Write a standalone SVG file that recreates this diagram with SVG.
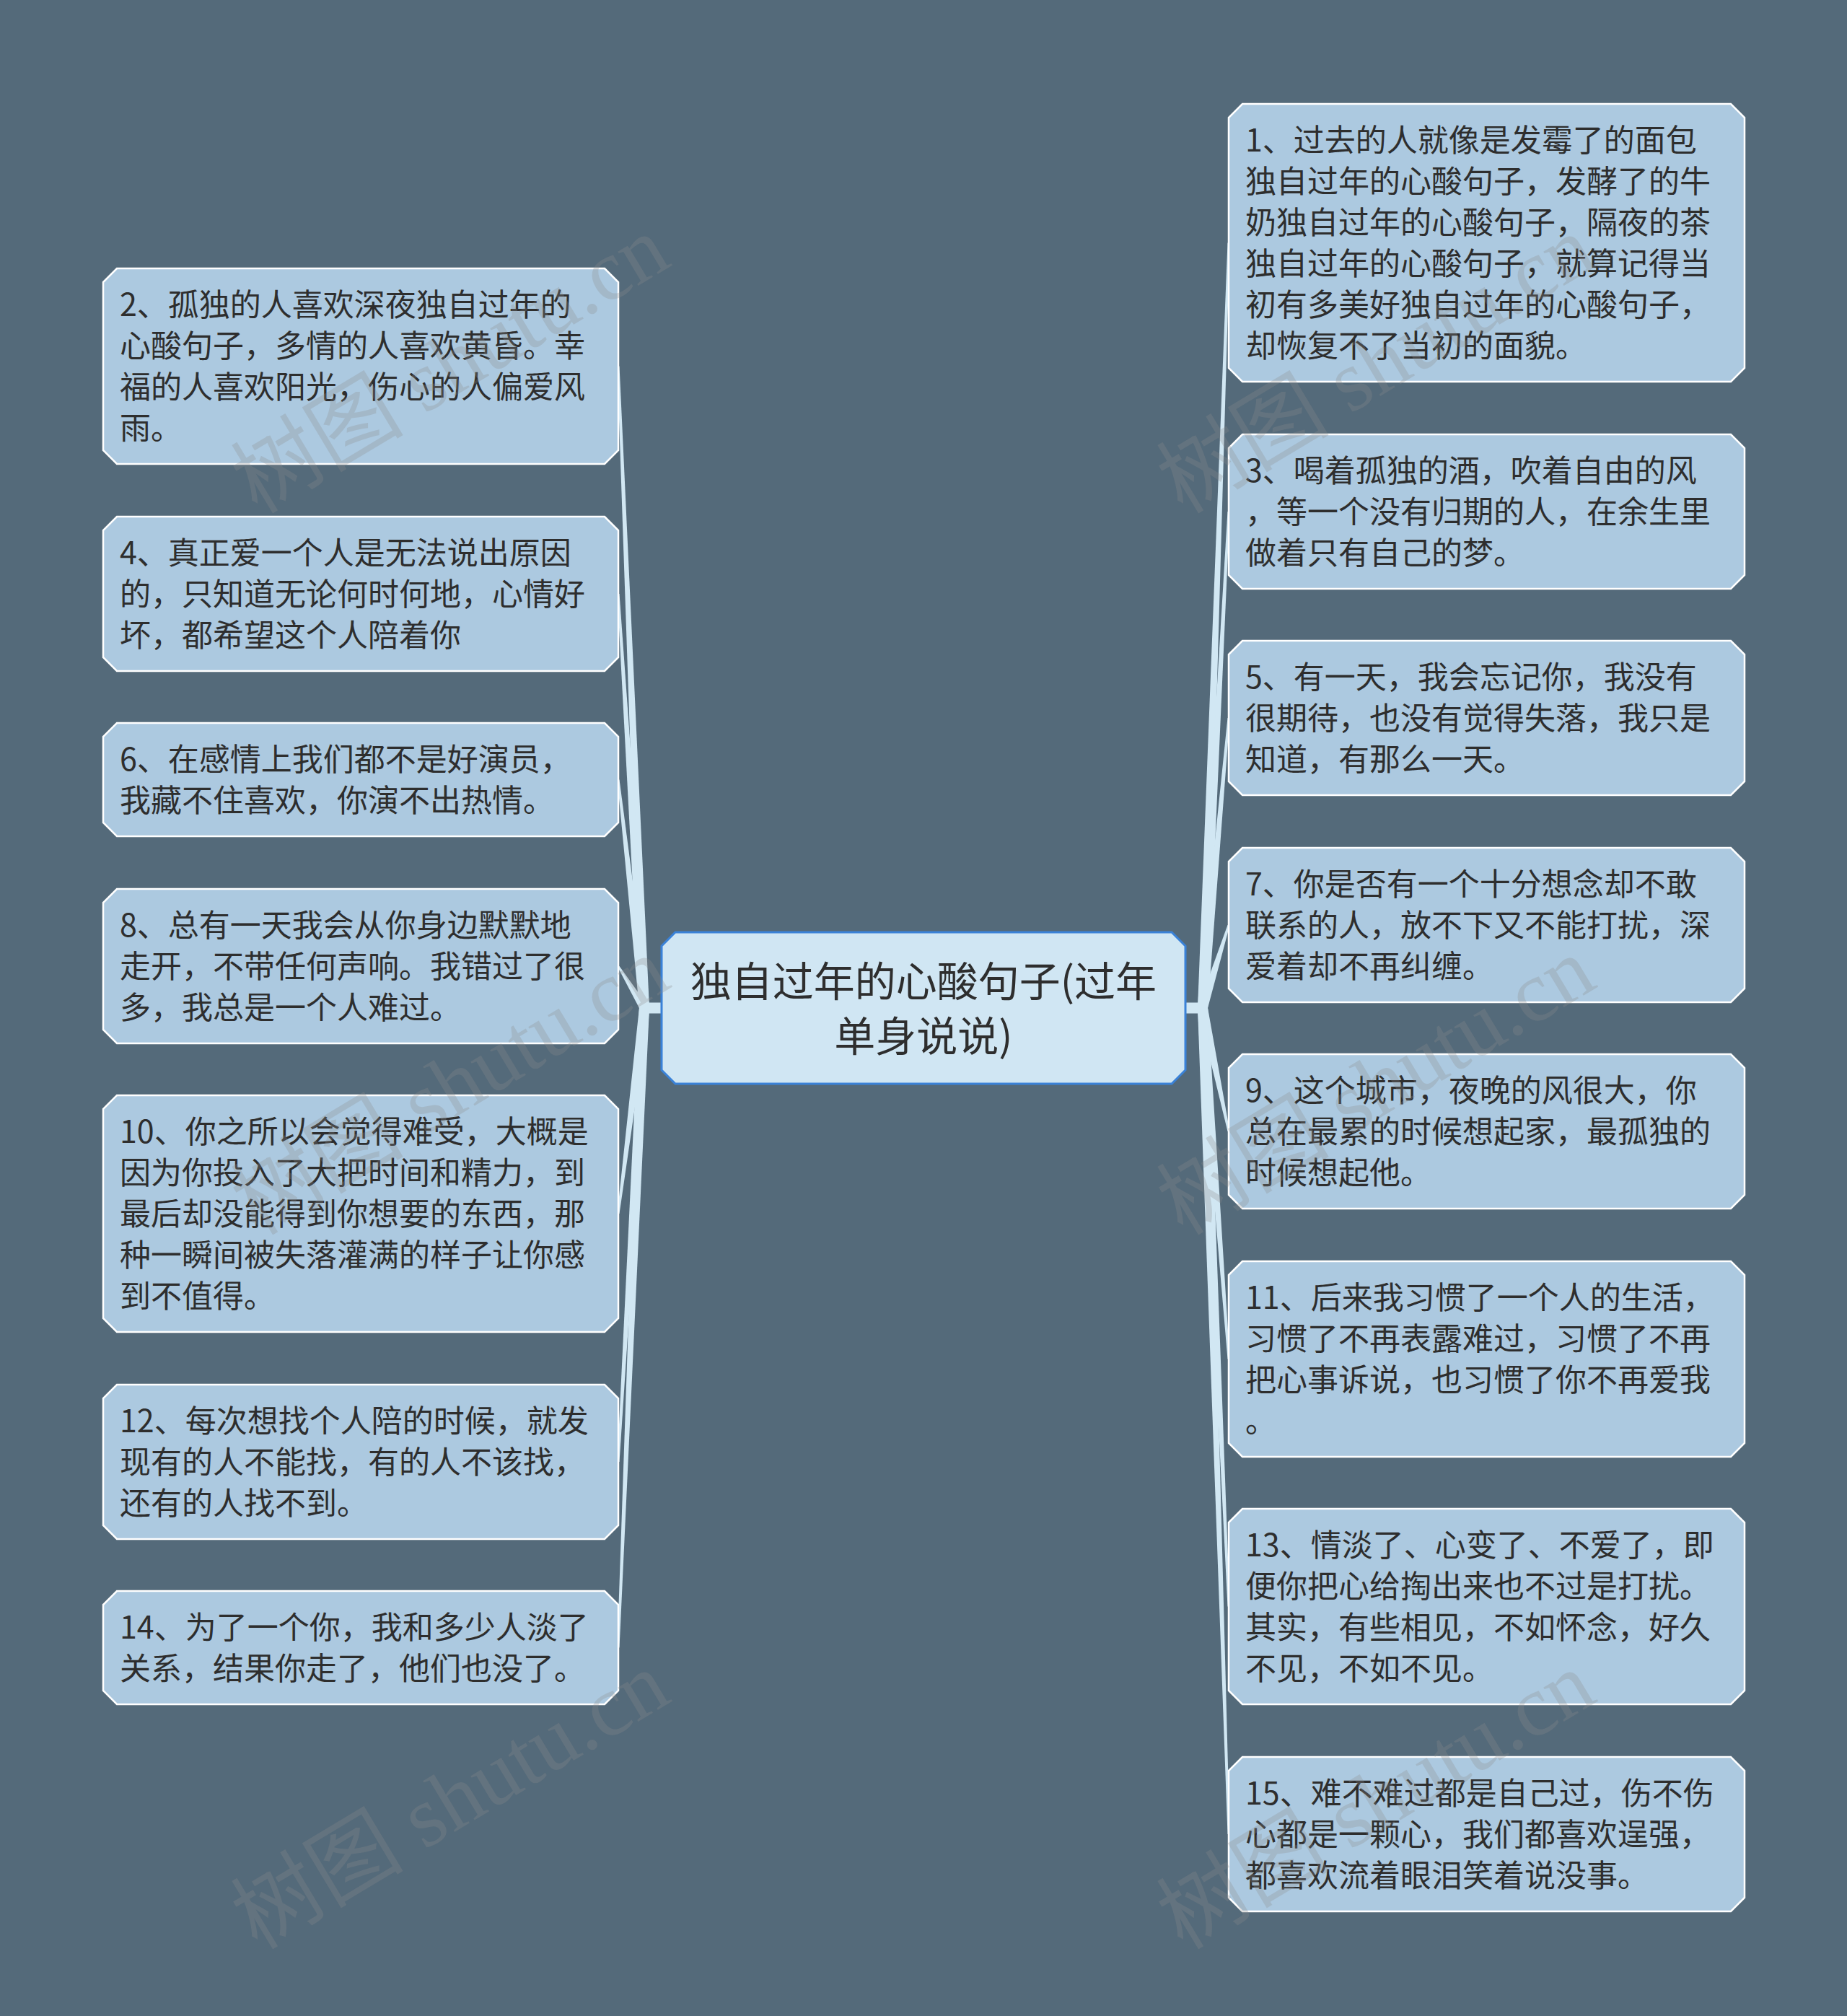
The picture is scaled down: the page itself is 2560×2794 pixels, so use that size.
<svg xmlns="http://www.w3.org/2000/svg" width="2560" height="2794" viewBox="0 0 2560 2794">
<style>
.bg{fill:#546a7a}
.node{fill:#acc9e0;stroke:#ffffff;stroke-width:2.5}
.root{fill:#d0e6f3;stroke:#3a82d8;stroke-width:3}
.edge{fill:#d1e7f3}
.t{font-family:"Noto Sans CJK SC","Noto Sans",sans-serif;font-size:43px;fill:#2e2e2e}
.rt{font-family:"Noto Sans CJK SC","Noto Sans",sans-serif;font-size:57px;fill:#2e2e2e;text-anchor:middle}
.wm{font-family:"Liberation Serif","Noto Sans CJK SC",serif;font-size:120px;fill:#8c8c8c;fill-opacity:0.28;text-anchor:middle}
</style>
<rect class="bg" x="0" y="0" width="2560" height="2794"/>
<g id="connectors">
<rect class="edge" x="893" y="1389.5" width="24" height="15"/>
<rect class="edge" x="1643" y="1389.5" width="24" height="15"/>
<path class="edge" d="M886,1397 L855.5,507.5 L858.5,507.5 L900,1397 Z"/>
<path class="edge" d="M886,1397 L855.5,823 L858.5,823 L900,1397 Z"/>
<path class="edge" d="M886,1397 L855.5,1080.5 L858.5,1080.5 L900,1397 Z"/>
<path class="edge" d="M886,1397 L855.5,1339 L858.5,1339 L900,1397 Z"/>
<path class="edge" d="M886,1397 L855.5,1682 L858.5,1682 L900,1397 Z"/>
<path class="edge" d="M886,1397 L855.5,2026 L858.5,2026 L900,1397 Z"/>
<path class="edge" d="M886,1397 L855.5,2283.5 L858.5,2283.5 L900,1397 Z"/>
<path class="edge" d="M1660,1397 L1701.5,336.5 L1704.5,336.5 L1674,1397 Z"/>
<path class="edge" d="M1660,1397 L1701.5,709 L1704.5,709 L1674,1397 Z"/>
<path class="edge" d="M1660,1397 L1701.5,995 L1704.5,995 L1674,1397 Z"/>
<path class="edge" d="M1660,1397 L1701.5,1282 L1704.5,1282 L1674,1397 Z"/>
<path class="edge" d="M1660,1397 L1701.5,1568 L1704.5,1568 L1674,1397 Z"/>
<path class="edge" d="M1660,1397 L1701.5,1883.5 L1704.5,1883.5 L1674,1397 Z"/>
<path class="edge" d="M1660,1397 L1701.5,2226.5 L1704.5,2226.5 L1674,1397 Z"/>
<path class="edge" d="M1660,1397 L1701.5,2542 L1704.5,2542 L1674,1397 Z"/>
</g>
<g id="root">
<polygon class="root" points="936,1292 1624,1292 1643,1311 1643,1483 1624,1502 936,1502 917,1483 917,1311"/>
<text class="rt"><tspan x="1280" y="1381">独自过年的心酸句子(过年</tspan><tspan x="1280" y="1457">单身说说)</tspan></text>
</g>
<g id="n1">
<polygon class="node" points="1722,144 2399,144 2418,163 2418,510 2399,529 1722,529 1703,510 1703,163"/>
<text class="t"><tspan x="1726" y="210">1、过去的人就像是发霉了的面包</tspan><tspan x="1726" y="267">独自过年的心酸句子，发酵了的牛</tspan><tspan x="1726" y="324">奶独自过年的心酸句子，隔夜的茶</tspan><tspan x="1726" y="381">独自过年的心酸句子，就算记得当</tspan><tspan x="1726" y="438">初有多美好独自过年的心酸句子，</tspan><tspan x="1726" y="495">却恢复不了当初的面貌。</tspan></text>
</g>
<g id="n2">
<polygon class="node" points="162,372 838,372 857,391 857,624 838,643 162,643 143,624 143,391"/>
<text class="t"><tspan x="166" y="438">2、孤独的人喜欢深夜独自过年的</tspan><tspan x="166" y="495">心酸句子，多情的人喜欢黄昏。幸</tspan><tspan x="166" y="552">福的人喜欢阳光，伤心的人偏爱风</tspan><tspan x="166" y="609">雨。</tspan></text>
</g>
<g id="n3">
<polygon class="node" points="1722,602 2399,602 2418,621 2418,797 2399,816 1722,816 1703,797 1703,621"/>
<text class="t"><tspan x="1726" y="668">3、喝着孤独的酒，吹着自由的风</tspan><tspan x="1726" y="725">，等一个没有归期的人，在余生里</tspan><tspan x="1726" y="782">做着只有自己的梦。</tspan></text>
</g>
<g id="n4">
<polygon class="node" points="162,716 838,716 857,735 857,911 838,930 162,930 143,911 143,735"/>
<text class="t"><tspan x="166" y="782">4、真正爱一个人是无法说出原因</tspan><tspan x="166" y="839">的，只知道无论何时何地，心情好</tspan><tspan x="166" y="896">坏，都希望这个人陪着你</tspan></text>
</g>
<g id="n5">
<polygon class="node" points="1722,888 2399,888 2418,907 2418,1083 2399,1102 1722,1102 1703,1083 1703,907"/>
<text class="t"><tspan x="1726" y="954">5、有一天，我会忘记你，我没有</tspan><tspan x="1726" y="1011">很期待，也没有觉得失落，我只是</tspan><tspan x="1726" y="1068">知道，有那么一天。</tspan></text>
</g>
<g id="n6">
<polygon class="node" points="162,1002 838,1002 857,1021 857,1140 838,1159 162,1159 143,1140 143,1021"/>
<text class="t"><tspan x="166" y="1068">6、在感情上我们都不是好演员，</tspan><tspan x="166" y="1125">我藏不住喜欢，你演不出热情。</tspan></text>
</g>
<g id="n7">
<polygon class="node" points="1722,1175 2399,1175 2418,1194 2418,1370 2399,1389 1722,1389 1703,1370 1703,1194"/>
<text class="t"><tspan x="1726" y="1241">7、你是否有一个十分想念却不敢</tspan><tspan x="1726" y="1298">联系的人，放不下又不能打扰，深</tspan><tspan x="1726" y="1355">爱着却不再纠缠。</tspan></text>
</g>
<g id="n8">
<polygon class="node" points="162,1232 838,1232 857,1251 857,1427 838,1446 162,1446 143,1427 143,1251"/>
<text class="t"><tspan x="166" y="1298">8、总有一天我会从你身边默默地</tspan><tspan x="166" y="1355">走开，不带任何声响。我错过了很</tspan><tspan x="166" y="1412">多，我总是一个人难过。</tspan></text>
</g>
<g id="n9">
<polygon class="node" points="1722,1461 2399,1461 2418,1480 2418,1656 2399,1675 1722,1675 1703,1656 1703,1480"/>
<text class="t"><tspan x="1726" y="1527">9、这个城市，夜晚的风很大，你</tspan><tspan x="1726" y="1584">总在最累的时候想起家，最孤独的</tspan><tspan x="1726" y="1641">时候想起他。</tspan></text>
</g>
<g id="n10">
<polygon class="node" points="162,1518 838,1518 857,1537 857,1827 838,1846 162,1846 143,1827 143,1537"/>
<text class="t"><tspan x="166" y="1584">10、你之所以会觉得难受，大概是</tspan><tspan x="166" y="1641">因为你投入了大把时间和精力，到</tspan><tspan x="166" y="1698">最后却没能得到你想要的东西，那</tspan><tspan x="166" y="1755">种一瞬间被失落灌满的样子让你感</tspan><tspan x="166" y="1812">到不值得。</tspan></text>
</g>
<g id="n11">
<polygon class="node" points="1722,1748 2399,1748 2418,1767 2418,2000 2399,2019 1722,2019 1703,2000 1703,1767"/>
<text class="t"><tspan x="1726" y="1814">11、后来我习惯了一个人的生活，</tspan><tspan x="1726" y="1871">习惯了不再表露难过，习惯了不再</tspan><tspan x="1726" y="1928">把心事诉说，也习惯了你不再爱我</tspan><tspan x="1726" y="1985">。</tspan></text>
</g>
<g id="n12">
<polygon class="node" points="162,1919 838,1919 857,1938 857,2114 838,2133 162,2133 143,2114 143,1938"/>
<text class="t"><tspan x="166" y="1985">12、每次想找个人陪的时候，就发</tspan><tspan x="166" y="2042">现有的人不能找，有的人不该找，</tspan><tspan x="166" y="2099">还有的人找不到。</tspan></text>
</g>
<g id="n13">
<polygon class="node" points="1722,2091 2399,2091 2418,2110 2418,2343 2399,2362 1722,2362 1703,2343 1703,2110"/>
<text class="t"><tspan x="1726" y="2157">13、情淡了、心变了、不爱了，即</tspan><tspan x="1726" y="2214">便你把心给掏出来也不过是打扰。</tspan><tspan x="1726" y="2271">其实，有些相见，不如怀念，好久</tspan><tspan x="1726" y="2328">不见，不如不见。</tspan></text>
</g>
<g id="n14">
<polygon class="node" points="162,2205 838,2205 857,2224 857,2343 838,2362 162,2362 143,2343 143,2224"/>
<text class="t"><tspan x="166" y="2271">14、为了一个你，我和多少人淡了</tspan><tspan x="166" y="2328">关系，结果你走了，他们也没了。</tspan></text>
</g>
<g id="n15">
<polygon class="node" points="1722,2435 2399,2435 2418,2454 2418,2630 2399,2649 1722,2649 1703,2630 1703,2454"/>
<text class="t"><tspan x="1726" y="2501">15、难不难过都是自己过，伤不伤</tspan><tspan x="1726" y="2558">心都是一颗心，我们都喜欢逞强，</tspan><tspan x="1726" y="2615">都喜欢流着眼泪笑着说没事。</tspan></text>
</g>
<g id="watermarks">
<text class="wm" transform="translate(645,540) rotate(-31)">树图 shutu.cn</text>
<text class="wm" transform="translate(645,1540) rotate(-31)">树图 shutu.cn</text>
<text class="wm" transform="translate(645,2530) rotate(-31)">树图 shutu.cn</text>
<text class="wm" transform="translate(1928,540) rotate(-31)">树图 shutu.cn</text>
<text class="wm" transform="translate(1928,1540) rotate(-31)">树图 shutu.cn</text>
<text class="wm" transform="translate(1928,2530) rotate(-31)">树图 shutu.cn</text>
</g>
</svg>
